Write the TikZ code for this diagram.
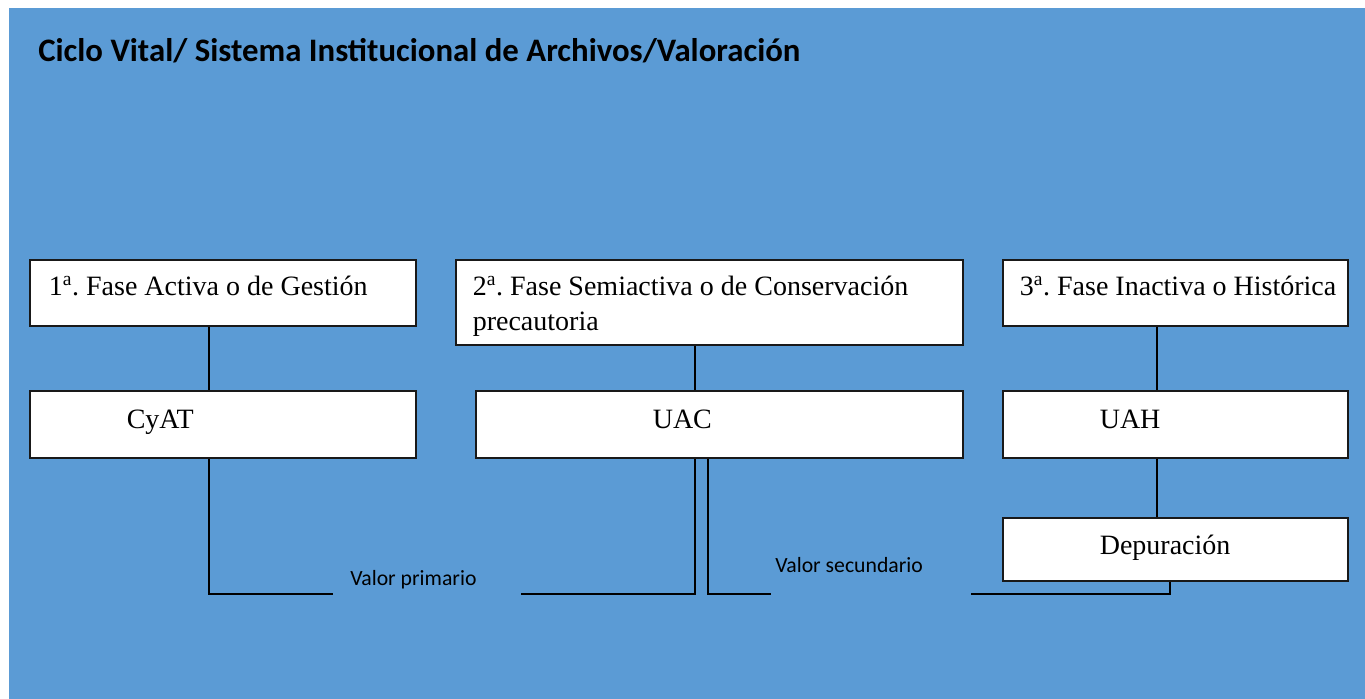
\documentclass[tikz,border=0pt]{standalone}
\usepackage{fontspec}
\setmainfont{Liberation Serif}
\newfontfamily\carlito{Carlito}
\definecolor{fondo}{HTML}{5B9BD5}

\tikzset{
  caja/.style n args={2}{draw=black!90, line width=1.2pt, fill=white, anchor=north west,
    inner sep=0pt, align=left, text width=#1,
    execute at begin node={\leftskip=#2\spaceskip=0pt\xspaceskip=0pt\frenchspacing},
    font=\fontsize{21}{26.25}\selectfont},
  fila1/.style={text height=27pt, text depth=22.5pt},
  fila2/.style={text height=28.5pt, text depth=21.75pt},
  linea/.style={line width=1.3pt, black},
  valor/.style={anchor=base west, inner sep=0pt, font=\carlito\fontsize{16.3}{19}\selectfont},
}

\begin{document}
\begin{tikzpicture}[x=0.75pt, y=-0.75pt]
  \fill[white] (0,0) rectangle (1365,699);
  \fill[fondo] (9,8) rectangle (1365,699);
  \useasboundingbox (0,0) rectangle (1365,699);

  \node[anchor=base west, inner sep=0pt, font=\carlito\bfseries\fontsize{24.6}{29}\selectfont] (titulo) at (38,62) {Ciclo Vital/ Sistema Institucional de Archivos/Valoración};

  % fases
  \node[caja={289.5pt}{14.25pt}, fila1] (fase1) at (29,259) {1\textsuperscript{a}. Fase Activa o de Gestión};
  \node[caja={380.25pt}{12.75pt}, text height=27pt, text depth=36.75pt] (fase2) at (455,259) {2\textsuperscript{a}. Fase Semiactiva o de Conservación\\precautoria};
  \node[caja={258.75pt}{12.75pt}, fila1] (fase3) at (1002,259) {3\textsuperscript{a}. Fase Inactiva o Histórica};

  % unidades
  \node[caja={289.5pt}{72.75pt}, fila2] (cyat) at (29,390) {CyAT};
  \node[caja={365.25pt}{132.75pt}, fila2] (uac) at (475,390) {UAC};
  \node[caja={258.75pt}{72.75pt}, fila2] (uah) at (1002,390) {UAH};
  \node[caja={258.75pt}{72.75pt}, text height=27.75pt, text depth=19.5pt] (depur) at (1002,517) {Depuración};

  \node[valor] (vprim) at (350,585) {Valor primario};
  \node[valor] (vsec) at (775,572) {Valor secundario};

  \coordinate (k1) at (209,594);
  \coordinate (e1) at (333,594);
  \coordinate (e2) at (521,594);
  \coordinate (k2) at (695,594);
  \coordinate (k3) at (708,594);
  \coordinate (e3) at (771,594);
  \coordinate (e4) at (971,594);
  \coordinate (k4) at (1170,594);
  \coordinate (k5) at (1157,594);

  \draw[linea] (fase1.south -| k1) -- (cyat.north -| k1);
  \draw[linea] (cyat.south -| k1) |- (e1);
  \draw[linea] (fase2.south -| k2) -- (uac.north -| k2);
  \draw[linea] (e2) -| (uac.south -| k2);
  \draw[linea] (uac.south -| k3) |- (e3);
  \draw[linea] (e4) -| (depur.south -| k4);
  \draw[linea] (fase3.south -| k5) -- (uah.north -| k5);
  \draw[linea] (uah.south -| k5) -- (depur.north -| k5);
\end{tikzpicture}
\end{document}
